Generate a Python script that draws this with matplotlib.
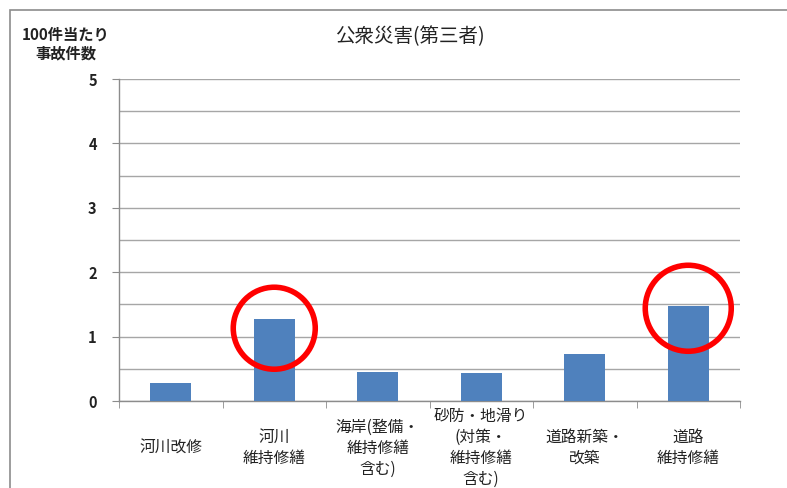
import matplotlib
matplotlib.use("Agg")
import matplotlib.pyplot as plt
from matplotlib.patches import Ellipse, Rectangle

plt.rcParams['font.family'] = ['Noto Sans CJK JP', 'DejaVu Sans']

categories = ["河川改修", "河川\n維持修繕", "海岸(整備・\n維持修繕\n含む)",
              "砂防・地滑り\n(対策・\n維持修繕\n含む)", "道路新築・\n改築", "道路\n維持修繕"]
values = [0.28, 1.27, 0.45, 0.43, 0.73, 1.47]
yticks = [0, 1, 2, 3, 4, 5]
title = "公衆災害(第三者)"
ylabel = "100件当たり\n事故件数"
circle_cats = [1, 5]
circle_y = [1.13, 1.44]
circle_r_px = [41, 43]

W, H = 787, 488
fig = plt.figure(figsize=(W / 100, H / 100), dpi=100)
fig.patches.append(Rectangle((10 / W, -0.1), 1.2, 1.1 - 10 / H, transform=fig.transFigure,
                             fill=False, edgecolor='#8c8c8c', linewidth=1.2))

ax = fig.add_axes([119 / W, 87 / H, 621 / W, 322 / H])
x = list(range(len(categories)))
ax.bar(x, values, width=0.4, color='#4f81bd', zorder=3)
ax.set_xlim(-0.5, len(categories) - 0.5)
ax.set_ylim(0, 5)

# gridlines every 0.5
ax.set_yticks(yticks)
ax.set_yticks([v + 0.5 for v in yticks[:-1]], minor=True)
ax.yaxis.grid(True, which='both', color='#a6a6a6', linewidth=1.0, zorder=0)
ax.set_yticklabels([str(v) for v in yticks], fontsize=10.5, fontweight='bold', color='#222222')
ax.tick_params(axis='y', which='major', length=5, color='#8c8c8c', pad=11)
ax.tick_params(axis='y', which='minor', length=0)

ax.set_xticks(x)
ax.set_xticklabels(categories, fontsize=11.3, color='#222222', va='center', linespacing=1.3)
ax.set_xticks([i - 0.5 for i in range(len(categories) + 1)], minor=True)
ax.tick_params(axis='x', which='major', length=0, pad=34)
ax.tick_params(axis='x', which='minor', length=5, color='#8c8c8c', direction='out')

for s in ['top', 'right']:
    ax.spines[s].set_visible(False)
for s in ['left', 'bottom']:
    ax.spines[s].set_color('#8c8c8c')
    ax.spines[s].set_linewidth(1.0)

# red circles
xpx = 621 / len(categories)
ypx = 322 / 5
for c, yy, r in zip(circle_cats, circle_y, circle_r_px):
    ax.add_patch(Ellipse((c, yy), 2 * r / xpx, 2 * r / ypx, fill=False,
                         edgecolor='#ff0000', linewidth=4.0, zorder=5, clip_on=False))

fig.text(410 / W, 1 - 37 / H, title, ha='center', va='center', fontsize=14, color='#222222')
fig.text(66 / W, 1 - 44 / H, ylabel, ha='center', va='center', fontsize=11,
         fontweight='bold', color='#222222', linespacing=1.25)

fig.savefig('out.png', dpi=100)
